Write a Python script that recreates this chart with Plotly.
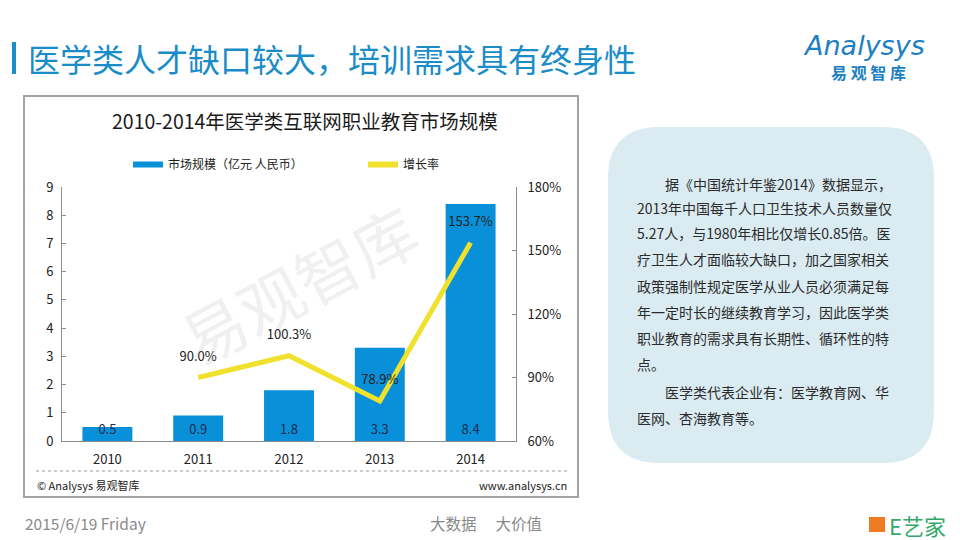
import plotly.graph_objects as go

# ---------------- data ----------------
years = ["2010", "2011", "2012", "2013", "2014"]
market_size = [0.5, 0.9, 1.8, 3.3, 8.4]          # 亿元 人民币
growth_rate = [None, 90.0, 100.3, 78.9, 153.7]   # %
bar_labels = ["0.5", "0.9", "1.8", "3.3", "8.4"]
growth_labels = ["", "90.0%", "100.3%", "78.9%", "153.7%"]
left_ticks = list(range(0, 10))
right_ticks = [60, 90, 120, 150, 180]
right_tick_text = ["60%", "90%", "120%", "150%", "180%"]

series_names = ["市场规模（亿元 人民币）", "增长率"]
page_title = "医学类人才缺口较大，培训需求具有终身性"
chart_title = "2010-2014年医学类互联网职业教育市场规模"
panel_lines = [
    ("indent", "据《中国统计年鉴2014》数据显示，"),
    ("", "2013年中国每千人口卫生技术人员数量仅"),
    ("", "5.27人，与1980年相比仅增长0.85倍。医"),
    ("", "疗卫生人才面临较大缺口，加之国家相关"),
    ("", "政策强制性规定医学从业人员必须满足每"),
    ("", "年一定时长的继续教育学习，因此医学类"),
    ("", "职业教育的需求具有长期性、循环性的特"),
    ("", "点。"),
    ("indent", "医学类代表企业有：医学教育网、华"),
    ("", "医网、杏海教育等。"),
]

# ---------------- style ----------------
# the page body has an 8px margin, so the figure is sized / offset to fill the window
OFF = 8
W, H = 960 - OFF, 540 - OFF
FONT = "Noto Sans CJK SC, Noto Sans, sans-serif"
BLUE = "#0A90D8"
YELLOW = "#F0E12C"
TITLE_BLUE = "#1A8CC8"
AXIS = "#8C8C8C"


def px(x):
    return (x - OFF) / W


def py(y):
    return 1 - (y - OFF) / H


fig = go.Figure()

fig.add_trace(go.Bar(
    x=years, y=market_size, name=series_names[0], showlegend=False,
    marker=dict(color=BLUE, line=dict(width=0)), width=0.55,
    text=bar_labels, textposition="inside", insidetextanchor="start",
    constraintext="none", textangle=0,
    textfont=dict(family=FONT, size=13, color="#1D2E4F"),
    hoverinfo="x+y",
))

fig.add_trace(go.Scatter(
    x=years, y=growth_rate, name=series_names[1], showlegend=False,
    yaxis="y2", mode="lines+markers+text",
    line=dict(color=YELLOW, width=5),
    marker=dict(size=20, color="rgba(0,0,0,0)"),
    text=growth_labels, textposition="top center",
    textfont=dict(family=FONT, size=13, color="#222222"),
    connectgaps=False,
))

# legend entries drawn as thick line swatches, like the reference
fig.add_trace(go.Scatter(x=[None], y=[None], mode="lines", name=series_names[0],
                         line=dict(color=BLUE, width=6), showlegend=True))
fig.add_trace(go.Scatter(x=[None], y=[None], mode="lines", name=series_names[1],
                         yaxis="y2", line=dict(color=YELLOW, width=6), showlegend=True))

shapes = []
annotations = []

# title accent bar
shapes.append(dict(type="rect", xref="paper", yref="paper",
                   x0=px(12), x1=px(16), y0=py(74), y1=py(42),
                   fillcolor=TITLE_BLUE, line=dict(width=0), layer="below"))
annotations.append(dict(text=page_title, xref="paper", yref="paper",
                        x=px(26), y=py(58), xanchor="left", yanchor="middle",
                        showarrow=False, font=dict(family=FONT, size=32, color=TITLE_BLUE)))

# chart frame
shapes.append(dict(type="rect", xref="paper", yref="paper",
                   x0=px(24), x1=px(578), y0=py(497), y1=py(96),
                   line=dict(color="#A3A3A3", width=2), fillcolor="rgba(0,0,0,0)", layer="below"))
annotations.append(dict(text=chart_title, xref="paper", yref="paper",
                        x=px(305), y=py(120), xanchor="center", yanchor="middle",
                        showarrow=False, font=dict(family=FONT, size=19.5, color="#1A1A1A")))

# watermark
annotations.append(dict(text="易观智库", xref="paper", yref="paper",
                        x=px(298), y=py(283), xanchor="center", yanchor="middle",
                        textangle=-28, showarrow=False,
                        font=dict(family=FONT, size=64, color="rgba(170,170,170,0.18)")))

# footer inside chart
shapes.append(dict(type="line", xref="paper", yref="paper",
                   x0=px(36), x1=px(570), y0=py(471), y1=py(471),
                   line=dict(color="#9A9A9A", width=1, dash="dot")))
annotations.append(dict(text="© Analysys 易观智库", xref="paper", yref="paper",
                        x=px(35), y=py(485), xanchor="left", yanchor="middle",
                        showarrow=False, font=dict(family=FONT, size=11, color="#222222")))
annotations.append(dict(text="www.analysys.cn", xref="paper", yref="paper",
                        x=px(569), y=py(485), xanchor="right", yanchor="middle",
                        showarrow=False, font=dict(family=FONT, size=11, color="#222222")))

# right text panel (rounded rectangle)
x0, x1, y0, y1, r = 608, 934, 127, 463, 52
path = (f"M {px(x0 + r)},{py(y0)} L {px(x1 - r)},{py(y0)} "
        f"Q {px(x1)},{py(y0)} {px(x1)},{py(y0 + r)} "
        f"L {px(x1)},{py(y1 - r)} Q {px(x1)},{py(y1)} {px(x1 - r)},{py(y1)} "
        f"L {px(x0 + r)},{py(y1)} Q {px(x0)},{py(y1)} {px(x0)},{py(y1 - r)} "
        f"L {px(x0)},{py(y0 + r)} Q {px(x0)},{py(y0)} {px(x0 + r)},{py(y0)} Z")
shapes.append(dict(type="path", xref="paper", yref="paper", path=path,
                   fillcolor="#DAEBF2", line=dict(width=0), layer="below"))
line_y = [184, 208, 233, 259, 286, 312, 338, 364, 392, 418]
for (kind, txt), yy in zip(panel_lines, line_y):
    annotations.append(dict(text=txt, xref="paper", yref="paper",
                            x=px(663 if kind == "indent" else 635), y=py(yy),
                            xanchor="left", yanchor="middle", showarrow=False,
                            font=dict(family=FONT, size=14, color="#2B2B2B")))

# top-right logo
annotations.append(dict(text="<i>Analysys</i>", xref="paper", yref="paper",
                        x=px(864), y=py(45), xanchor="center", yanchor="middle",
                        showarrow=False, font=dict(family="DejaVu Sans, sans-serif", size=27,
                                                   color="#1E7FC2")))
annotations.append(dict(text="<b>易 观 智 库</b>", xref="paper", yref="paper",
                        x=px(868), y=py(72), xanchor="center", yanchor="middle",
                        showarrow=False, font=dict(family=FONT, size=16, color="#1E7FC2")))

# page footer
annotations.append(dict(text="2015/6/19 Friday", xref="paper", yref="paper",
                        x=px(23), y=py(523), xanchor="left", yanchor="middle",
                        showarrow=False, font=dict(family=FONT, size=15.5, color="#8A8A8A")))
annotations.append(dict(text="大数据　 大价值", xref="paper", yref="paper",
                        x=px(486), y=py(523), xanchor="center", yanchor="middle",
                        showarrow=False, font=dict(family=FONT, size=15.5, color="#8A8A8A")))
shapes.append(dict(type="rect", xref="paper", yref="paper",
                   x0=px(869), x1=px(885), y0=py(532), y1=py(517),
                   fillcolor="#EE7A22", line=dict(width=0)))
annotations.append(dict(text="E艺家", xref="paper", yref="paper",
                        x=px(887), y=py(525), xanchor="left", yanchor="middle",
                        showarrow=False, font=dict(family=FONT, size=22, color="#34A86A")))

fig.update_layout(
    width=W, height=H,
    margin=dict(l=0, r=0, t=0, b=0),
    paper_bgcolor="white", plot_bgcolor="rgba(0,0,0,0)",
    font=dict(family=FONT, size=13, color="#222222"),
    showlegend=True,
    legend=dict(orientation="h", x=px(128), y=py(150), xanchor="left", yanchor="top",
                bgcolor="rgba(0,0,0,0)", font=dict(family=FONT, size=12, color="#222222"),
                itemwidth=30, entrywidth=190, traceorder="normal"),
    xaxis=dict(domain=[px(62), px(516)], type="category", categoryorder="array",
               categoryarray=years, showline=True, linecolor=AXIS, linewidth=1,
               ticks="", showgrid=False, zeroline=False, automargin=False,
               ticklabelstandoff=6,
               tickfont=dict(family=FONT, size=13, color="#222222")),
    yaxis=dict(domain=[py(441), py(187)], range=[0, 9], tickvals=left_ticks,
               showline=True, linecolor=AXIS, linewidth=1, ticks="inside", ticklen=4,
               tickcolor=AXIS, showgrid=False, zeroline=False, automargin=False,
               ticklabelstandoff=5,
               tickfont=dict(family=FONT, size=13, color="#222222")),
    yaxis2=dict(range=[60, 180], tickvals=right_ticks, ticktext=right_tick_text,
                overlaying="y", side="right", anchor="x",
                showline=True, linecolor=AXIS, linewidth=1, ticks="inside", ticklen=4,
                tickcolor=AXIS, showgrid=False, zeroline=False, automargin=False,
                ticklabelstandoff=8,
                tickfont=dict(family=FONT, size=13, color="#222222")),
    shapes=shapes,
    annotations=annotations,
)

fig.write_html("out.html")
